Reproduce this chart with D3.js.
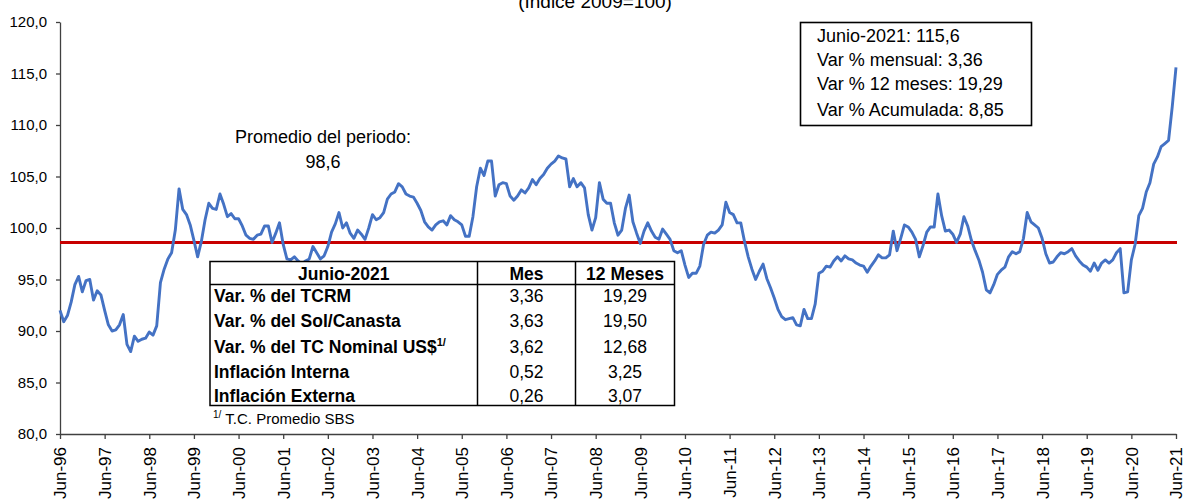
<!DOCTYPE html>
<html>
<head>
<meta charset="utf-8">
<script src="https://cdn.jsdelivr.net/npm/d3@7"></script>
<style>
  body { margin: 0; background: #fff; }
  svg { display: block; font-family: Arial, "Liberation Sans", sans-serif; }
</style>
</head>
<body>
<svg></svg>
<script>
// Indice de tipo de cambio real multilateral, mensual jun-96 .. jun-21
values = [
  92.0, 90.9, 91.5, 92.8, 94.5, 95.3, 93.8, 94.9, 95.0, 93.0, 93.9, 93.5,
  92.0, 90.6, 90.0, 90.1, 90.6, 91.6, 88.7, 88.0, 89.5, 89.0, 89.2, 89.3,
  89.9, 89.6, 90.5, 94.7, 96.0, 97.0, 97.6, 99.8, 103.8, 101.8, 101.3, 100.3,
  98.8, 97.2, 98.7, 100.8, 102.4, 101.9, 101.8, 103.3, 102.3, 101.1, 101.4, 100.9,
  100.9, 100.2, 99.3, 99.0, 98.9, 99.3, 99.4, 100.2, 100.2, 98.6, 99.5, 100.5,
  98.4, 97.0, 96.9, 97.2, 96.8, 96.5, 96.8, 97.0, 98.2, 97.6, 97.0, 97.3,
  98.2, 99.6, 100.4, 101.5, 100.0, 100.5, 99.5, 99.0, 99.8, 99.4, 98.9, 100.0,
  101.3, 100.8, 101.0, 101.5, 102.8, 103.3, 103.5, 104.3, 104.0, 103.3, 103.1, 103.0,
  102.4, 101.7, 100.6, 100.1, 99.8, 100.3, 100.6, 100.7, 100.3, 101.2, 100.8, 100.6,
  100.3, 99.2, 99.2, 101.1, 104.0, 105.8, 105.1, 106.5, 106.5, 103.1, 104.2, 104.4,
  104.3, 103.1, 102.7, 103.1, 103.7, 103.4, 103.9, 104.7, 104.2, 104.8, 105.2, 105.8,
  106.2, 106.5, 107.0, 106.8, 106.7, 104.0, 104.8, 104.0, 104.4, 103.9, 101.3, 99.8,
  101.0, 104.4, 102.8, 102.4, 102.4, 100.5, 99.3, 99.8, 101.9, 103.2, 100.6, 99.5,
  98.5, 99.7, 100.5, 99.7, 99.1, 98.9, 99.9, 99.4, 98.9, 97.8, 97.6, 97.8,
  96.4, 95.2, 95.6, 95.6, 96.3, 98.4, 99.3, 99.6, 99.5, 99.8, 100.3, 102.5,
  101.5, 101.3, 100.5, 100.5, 98.7, 97.2, 96.0, 95.0, 95.8, 96.5, 95.1, 94.2,
  93.2, 92.1, 91.4, 91.1, 91.2, 91.3, 90.6, 90.5, 92.1, 91.2, 91.2, 92.6,
  95.6, 95.8, 96.3, 96.2, 96.8, 97.2, 96.8, 97.3, 97.0, 96.9, 96.6, 96.4,
  96.3, 95.7, 96.3, 96.8, 97.4, 97.1, 97.1, 97.4, 99.7, 97.8, 99.0, 100.3,
  100.1, 99.6, 98.9, 97.2, 98.3, 99.6, 100.1, 100.1, 103.3, 101.2, 99.7, 99.8,
  99.4, 98.6, 99.4, 101.1, 100.2, 98.8, 97.8, 96.9, 95.7, 94.0, 93.7, 94.5,
  95.5, 95.9, 96.2, 97.2, 97.7, 97.5, 97.7, 99.0, 101.5, 100.6, 100.3, 100.0,
  99.0, 97.5, 96.6, 96.7, 97.2, 97.6, 97.5, 97.7, 98.0, 97.3, 96.8, 96.4,
  96.2, 95.8, 96.6, 95.9, 96.6, 96.9, 96.6, 96.9, 97.6, 98.0, 93.7, 93.8,
  96.9, 98.4, 101.2, 101.9, 103.5, 104.4, 106.2, 106.9, 107.9, 108.2, 108.5, 111.8, 115.6
];

tickLabels = ['Jun-96', 'Jun-97', 'Jun-98', 'Jun-99', 'Jun-00', 'Jun-01', 'Jun-02',
  'Jun-03', 'Jun-04', 'Jun-05', 'Jun-06', 'Jun-07', 'Jun-08', 'Jun-09', 'Jun-10',
  'Jun-11', 'Jun-12', 'Jun-13', 'Jun-14', 'Jun-15', 'Jun-16', 'Jun-17', 'Jun-18',
  'Jun-19', 'Jun-20', 'Jun-21'];

yTicks = [80, 85, 90, 95, 100, 105, 110, 115, 120];
average = 98.6;

infoLines = ['Junio-2021: 115,6', 'Var % mensual: 3,36', 'Var % 12 meses: 19,29', 'Var % Acumulada: 8,85'];

tableHeader = ['Junio-2021', 'Mes', '12 Meses'];
rowLabels = ['Var. % del TCRM', 'Var. % del Sol/Canasta', 'Var. % del TC Nominal US$',
  'Inflación Interna', 'Inflación Externa'];
mesValues = ['3,36', '3,63', '3,62', '0,52', '0,26'];
anualValues = ['19,29', '19,50', '12,68', '3,25', '3,07'];

width = 1185;
height = 500;
svg = d3.select('svg')
  .attr('width', width)
  .attr('height', height);

x = d3.scaleLinear().domain([0, values.length - 1]).range([60, 1176]);
y = d3.scaleLinear().domain([80, 120]).range([434, 22]);
fmt = d => d.toFixed(1).replace('.', ',');

// subtitle, cut by the top edge as in the original
svg.append('text')
  .attr('x', 595).attr('y', 8)
  .attr('text-anchor', 'middle')
  .style('font-size', '19px')
  .text('(Índice 2009=100)');

// y axis
yAxis = svg.append('g')
  .attr('transform', 'translate(60,0)')
  .call(d3.axisLeft(y).tickValues(yTicks).tickFormat(fmt).tickSize(4).tickSizeOuter(0).tickPadding(9));
yAxis.selectAll('text').style('font-size', '15px').attr('fill', '#000');

// x axis
xAxis = svg.append('g')
  .attr('transform', `translate(0,${y(80)})`)
  .call(d3.axisBottom(x)
    .tickValues(d3.range(0, values.length, 12))
    .tickFormat((d, i) => tickLabels[i])
    .tickSize(5).tickSizeOuter(0));
xAxis.selectAll('text')
  .attr('y', 0).attr('x', -13).attr('dy', '0.35em')
  .attr('transform', 'rotate(-90)')
  .style('text-anchor', 'end')
  .style('font-size', '17px')
  .attr('fill', '#000');
svg.selectAll('.domain, .tick line').attr('stroke', '#404040').attr('stroke-width', 1.3);
svg.selectAll('.tick text').attr('font-family', null);

// average line
svg.append('line')
  .attr('x1', x(0)).attr('x2', x(values.length - 1) + 1)
  .attr('y1', y(average)).attr('y2', y(average))
  .attr('stroke', '#c80000').attr('stroke-width', 3);

// series
line = d3.line().x((d, i) => x(i)).y(d => y(d));
svg.append('path')
  .datum(values)
  .attr('d', line)
  .attr('fill', 'none')
  .attr('stroke', '#4472c4')
  .attr('stroke-width', 2.9)
  .attr('stroke-linejoin', 'round');

// average label
svg.append('text').attr('x', 323).attr('y', 143).attr('text-anchor', 'middle')
  .style('font-size', '18px').text('Promedio del periodo:');
svg.append('text').attr('x', 323).attr('y', 168).attr('text-anchor', 'middle')
  .style('font-size', '18px').text(fmt(average));

// info box
svg.append('rect')
  .attr('x', 800.5).attr('y', 22.5).attr('width', 231).attr('height', 103)
  .attr('fill', '#fff').attr('stroke', '#000').attr('stroke-width', 1.6);
svg.selectAll('.info')
  .data(infoLines)
  .enter().append('text')
  .attr('class', 'info')
  .attr('x', 817)
  .attr('y', (d, i) => [41.5, 65.5, 90, 115.5][i])
  .style('font-size', '18px')
  .text(d => d);

// table
tbl = svg.append('g');
tx = [210, 477.5, 575.5, 674.5];
ty0 = 261.5, ty1 = 284.5, ty2 = 405.5;
tbl.append('rect')
  .attr('x', tx[0]).attr('y', ty0).attr('width', tx[3] - tx[0]).attr('height', ty2 - ty0)
  .attr('fill', '#fff').attr('stroke', '#000').attr('stroke-width', 1.5);
tbl.append('line').attr('x1', tx[0]).attr('x2', tx[3]).attr('y1', ty1).attr('y2', ty1)
  .attr('stroke', '#000').attr('stroke-width', 1.5);
[tx[1], tx[2]].forEach(cx => {
  tbl.append('line').attr('x1', cx).attr('x2', cx).attr('y1', ty0).attr('y2', ty2)
    .attr('stroke', '#000').attr('stroke-width', 1.5);
});
tbl.selectAll('.hdr')
  .data(tableHeader)
  .enter().append('text')
  .attr('x', (d, i) => (tx[i] + tx[i + 1]) / 2)
  .attr('y', 280)
  .attr('text-anchor', 'middle')
  .style('font-size', '17.5px').style('font-weight', 'bold')
  .text(d => d);

rowY = [301.5, 326.5, 353, 378, 401.5];
labels = tbl.selectAll('.lbl')
  .data(rowLabels)
  .enter().append('text')
  .attr('x', 214)
  .attr('y', (d, i) => rowY[i])
  .style('font-size', '17.5px').style('font-weight', 'bold')
  .text(d => d);
labels.filter((d, i) => i === 2)
  .append('tspan')
  .attr('dy', -7)
  .style('font-size', '11px')
  .text('1/');
tbl.selectAll('.mes')
  .data(mesValues)
  .enter().append('text')
  .attr('x', (tx[1] + tx[2]) / 2)
  .attr('y', (d, i) => rowY[i])
  .attr('text-anchor', 'middle')
  .style('font-size', '17.5px')
  .text(d => d);
tbl.selectAll('.anual')
  .data(anualValues)
  .enter().append('text')
  .attr('x', (tx[2] + tx[3]) / 2)
  .attr('y', (d, i) => rowY[i])
  .attr('text-anchor', 'middle')
  .style('font-size', '17.5px')
  .text(d => d);

// footnote
note = svg.append('text').attr('x', 213).attr('y', 424).style('font-size', '15px');
note.append('tspan').attr('dy', -6).style('font-size', '10px').text('1/');
note.append('tspan').attr('dy', 6).attr('dx', 4).text('T.C. Promedio SBS');
</script>
</body>
</html>
